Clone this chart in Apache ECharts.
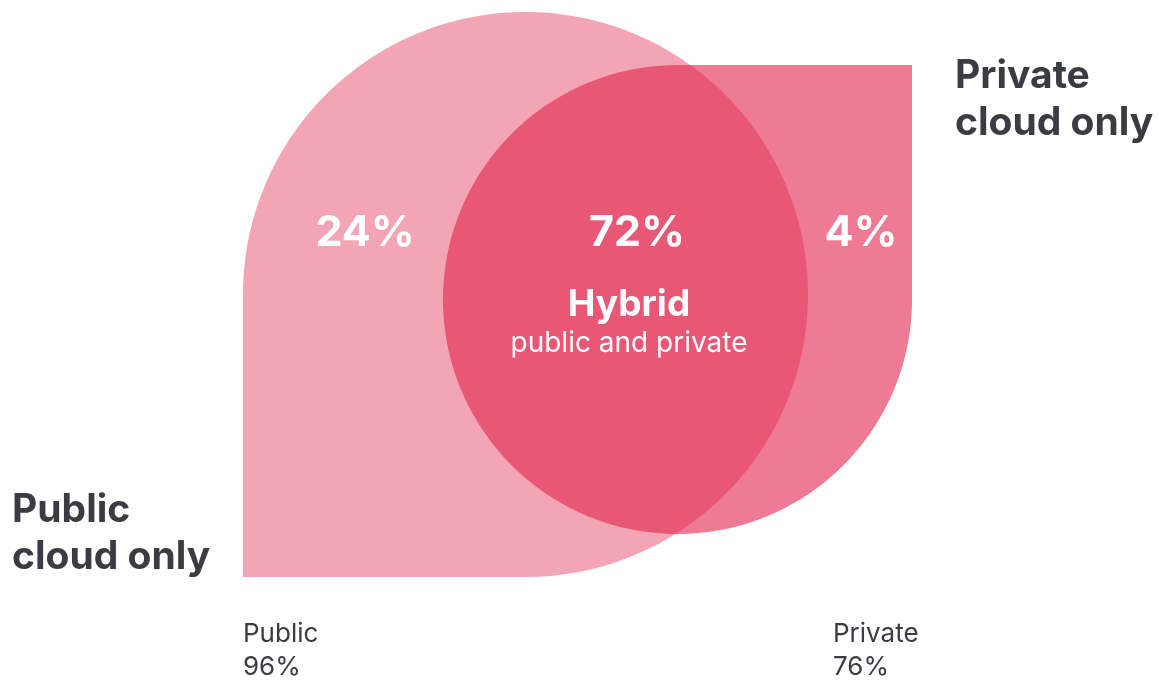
<!DOCTYPE html>
<html><head><meta charset="utf-8">
<script src="https://cdn.jsdelivr.net/npm/echarts@6/dist/echarts.min.js"></script>
<style>html,body{margin:0;padding:0;background:#fff}#c{width:1163px;height:684px}</style>
</head><body><div id="c"></div>
<script>
// ---- data ----
const setNames = ['Public', 'Private'];
const setShares = [96, 76];
const regionNames = ['Public\ncloud only', 'Hybrid', 'Private\ncloud only'];
const regionShares = [24, 72, 4];
const hybridSubtitle = 'public and private';

// ---- layout (in the chart's own coordinate space, 1 unit = 1 px) ----
const shapeLayout = [
  {cx: 525.5, cy: 294.5, r: 282.5, corner: 'bl', opacity: 0.41, labelX: 243, labelY: 651},
  {cx: 677.5, cy: 299.5, r: 234.5, corner: 'tr', opacity: 0.61, labelX: 833, labelY: 651}
];
const regionValuePos = [[365, 233], [637, 233], [861, 233]];
const regionNamePos = [[12, 534, 'left'], [629, 305, 'center'], [955, 100, 'left']];
const BASE = '#E3254E';
const INK = '#3B3B42';
const FONT = 'Inter, Lato, sans-serif';

function shapePoints(s) {
  const pts = [];
  const N = 240;
  let a0, a1, corner;
  if (s.corner === 'bl') { a0 = Math.PI; a1 = 2.5 * Math.PI; corner = [s.cx - s.r, s.cy + s.r]; }
  else { a0 = 0; a1 = 1.5 * Math.PI; corner = [s.cx + s.r, s.cy - s.r]; }
  for (let i = 0; i <= N; i++) {
    const a = a0 + (a1 - a0) * i / N;
    pts.push([s.cx + s.r * Math.cos(a), s.cy + s.r * Math.sin(a)]);
  }
  pts.push(corner);
  return pts;
}

const chart = echarts.init(document.getElementById('c'), null, {renderer: 'canvas'});
chart.setOption({
  animation: false,
  backgroundColor: '#ffffff',
  grid: {left: 0, right: 0, top: 0, bottom: 0},
  xAxis: {type: 'value', min: 0, max: 1163, show: false},
  yAxis: {type: 'value', min: 0, max: 684, inverse: true, show: false},
  series: [
    {
      type: 'custom',
      name: 'sets',
      data: setNames.map((n, i) => ({name: n, value: [i, setShares[i]]})),
      renderItem: function (params, api) {
        const i = params.dataIndex;
        const s = shapeLayout[i];
        const pts = shapePoints(s).map(p => api.coord(p));
        const lp = api.coord([s.labelX, s.labelY]);
        return {
          type: 'group',
          children: [
            {type: 'polygon', shape: {points: pts}, style: {fill: BASE, opacity: s.opacity}},
            {type: 'text', x: lp[0], y: lp[1], style: {
              text: setNames[i] + '\n' + api.value(1) + '%',
              fill: INK, fontFamily: FONT, fontSize: 26, fontWeight: 400,
              lineHeight: 33, align: 'left', verticalAlign: 'middle'}}
          ]
        };
      }
    },
    {
      type: 'custom',
      name: 'regions',
      data: regionNames.map((n, i) => ({name: n, value: [i, regionShares[i]]})),
      renderItem: function (params, api) {
        const i = params.dataIndex;
        const vp = api.coord(regionValuePos[i]);
        const np = api.coord([regionNamePos[i][0], regionNamePos[i][1]]);
        const children = [
          {type: 'text', x: vp[0], y: vp[1], style: {
            text: api.value(1) + '%', fill: '#ffffff', fontFamily: FONT,
            fontSize: 43, fontWeight: 700, align: 'center', verticalAlign: 'middle'}}
        ];
        if (i === 1) {
          children.push({type: 'text', x: np[0], y: np[1], style: {
            text: regionNames[i], fill: '#ffffff', fontFamily: FONT, fontSize: 37,
            fontWeight: 700, align: 'center', verticalAlign: 'middle'}});
          const sp = api.coord([regionNamePos[i][0], regionNamePos[i][1] + 39]);
          children.push({type: 'text', x: sp[0], y: sp[1], style: {
            text: hybridSubtitle, fill: '#ffffff', fontFamily: FONT, fontSize: 28,
            fontWeight: 400, align: 'center', verticalAlign: 'middle'}});
        } else {
          children.push({type: 'text', x: np[0], y: np[1], style: {
            text: regionNames[i], fill: INK, fontFamily: FONT, fontSize: 39,
            fontWeight: 700, lineHeight: 47, align: regionNamePos[i][2], verticalAlign: 'middle'}});
        }
        return {type: 'group', children: children};
      }
    }
  ]
});
</script>
</body></html>
